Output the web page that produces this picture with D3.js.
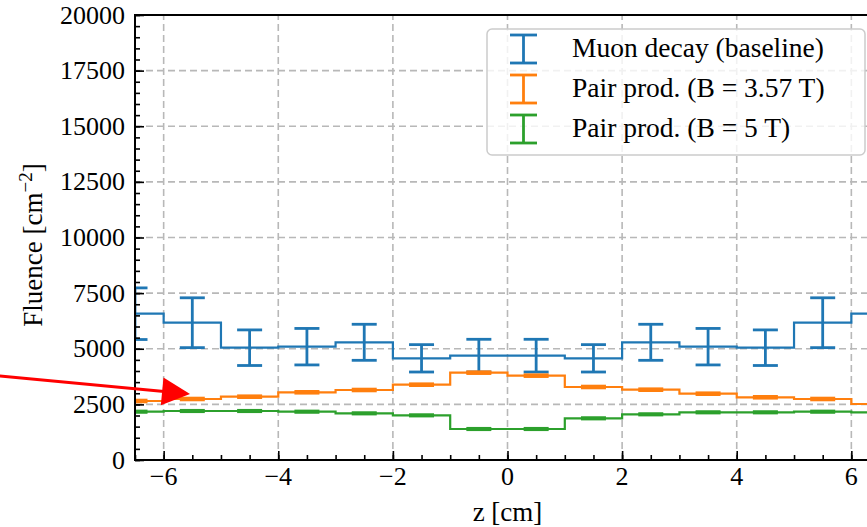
<!DOCTYPE html>
<html><head><meta charset="utf-8">
<script src="https://cdn.jsdelivr.net/npm/d3@7"></script>
<style>
body{margin:0;background:#fff;}
svg{display:block;}
text{font-family:"Liberation Serif","Times New Roman",serif;fill:#000;}
</style>
</head><body>
<svg id="chart" width="867" height="527"></svg>
<script>
// ---- data ----
const binCenters = [-6.5,-5.5,-4.5,-3.5,-2.5,-1.5,-0.5,0.5,1.5,2.5,3.5,4.5,5.5,6.5];
const muonDecay    = [6575,6170,5047,5093,5290,4570,4690,4690,4570,5290,5093,5047,6170,6575];
const muonDecayErr = [1160,1120,800,820,810,615,735,735,615,810,820,800,1120,1160];
const pair357      = [2652,2742,2845,3043,3146,3385,3925,3790,3281,3160,2980,2818,2742,2517];
const pair357Err   = [40,40,40,40,40,40,40,40,40,40,40,40,40,40];
const pair5        = [2171,2202,2202,2171,2097,2007,1393,1393,1873,2053,2143,2143,2171,2143];
const pair5Err     = [30,30,30,30,30,30,30,30,30,30,30,30,30,30];
const seriesNames  = ["Muon decay (baseline)","Pair prod. (B = 3.57 T)","Pair prod. (B = 5 T)"];
const seriesColors = ["#1f77b4","#ff7f0e","#2ca02c"];
const xTicks = [-6,-4,-2,0,2,4,6];
const xMinorTicks = d3.range(-6.5,6.51,0.5);
const yTicks = [0,2500,5000,7500,10000,12500,15000,17500,20000];
const yMinorTicks = d3.range(0,20001,500);
const xLabel = "z [cm]";
const arrowFrom = [-8.86, 3775];
const arrowTo   = [-5.54, 2966];

// ---- layout ----
const svg = d3.select("#chart");
const L = 135, T = 15, B = 460, R = 880;
const x = d3.scaleLinear().domain([-6.5,6.5]).range([L,R]);
const y = d3.scaleLinear().domain([0,20000]).range([B,T]);

svg.append("defs").append("clipPath").attr("id","plotclip")
  .append("rect").attr("x",L).attr("y",T).attr("width",R-L).attr("height",B-T);

// grid
const grid = svg.append("g");
grid.selectAll("line.gx").data(xTicks).join("line")
  .attr("x1",d=>x(d)).attr("x2",d=>x(d)).attr("y1",y(0)).attr("y2",y(20000))
  .attr("stroke","#b8b8b8").attr("stroke-width",1.6).attr("stroke-dasharray","7,4");
grid.selectAll("line.gy").data(yTicks).join("line")
  .attr("x1",L).attr("x2",R).attr("y1",d=>y(d)).attr("y2",d=>y(d))
  .attr("stroke","#b8b8b8").attr("stroke-width",1.6).attr("stroke-dasharray","7,4");

// series
const series = [
  {vals:muonDecay, errs:muonDecayErr},
  {vals:pair357, errs:pair357Err},
  {vals:pair5, errs:pair5Err}
];
const plot = svg.append("g").attr("clip-path","url(#plotclip)");
const line = d3.line().curve(d3.curveStep);
series.forEach((s,i)=>{
  const col = seriesColors[i];
  const pts = binCenters.map((c,j)=>[x(c), y(s.vals[j])]);
  plot.append("path").attr("d", line(pts)).attr("fill","none")
    .attr("stroke",col).attr("stroke-width",2.2);
  const eb = plot.append("g").attr("stroke",col).attr("stroke-width",2.8);
  binCenters.forEach((c,j)=>{
    const lo = y(s.vals[j]-s.errs[j]), hi = y(s.vals[j]+s.errs[j]);
    eb.append("line").attr("x1",x(c)).attr("x2",x(c)).attr("y1",lo).attr("y2",hi);
    eb.append("line").attr("x1",x(c)-12.5).attr("x2",x(c)+12.5).attr("y1",lo).attr("y2",lo);
    eb.append("line").attr("x1",x(c)-12.5).attr("x2",x(c)+12.5).attr("y1",hi).attr("y2",hi);
  });
});

// legend
const lg = svg.append("g");
lg.append("rect").attr("x",487).attr("y",29).attr("width",378).attr("height",126).attr("rx",5)
  .attr("fill","#fff").attr("fill-opacity",0.8).attr("stroke","#cccccc").attr("stroke-width",1.5);
seriesNames.forEach((n,i)=>{
  const cy = 49 + i*40;
  const g = lg.append("g").attr("stroke",seriesColors[i]).attr("stroke-width",2.8);
  g.append("line").attr("x1",523.5).attr("x2",523.5).attr("y1",cy-14).attr("y2",cy+14);
  g.append("line").attr("x1",510).attr("x2",537).attr("y1",cy-14).attr("y2",cy-14);
  g.append("line").attr("x1",510).attr("x2",537).attr("y1",cy+14).attr("y2",cy+14);
  lg.append("text").attr("x",572).attr("y",cy+8).attr("font-size",27.5).text(n);
});

// axes (inward ticks)
const ax = svg.append("g");
function styleAxis(g){
  g.select(".domain").remove();
  g.selectAll("line").attr("stroke","#000").attr("stroke-width",1.6);
  g.selectAll("text").remove();
}
ax.append("g").attr("transform",`translate(0,${B})`)
  .call(d3.axisBottom(x).tickValues(xMinorTicks).tickSize(-5).tickFormat("")).call(styleAxis);
ax.append("g").attr("transform",`translate(0,${B})`)
  .call(d3.axisBottom(x).tickValues(xTicks).tickSize(-9).tickFormat("")).call(styleAxis);
ax.append("g").attr("transform",`translate(${L},0)`)
  .call(d3.axisLeft(y).tickValues(yMinorTicks).tickSize(-5).tickFormat("")).call(styleAxis);
ax.append("g").attr("transform",`translate(${L},0)`)
  .call(d3.axisLeft(y).tickValues(yTicks).tickSize(-9).tickFormat("")).call(styleAxis);
// spines
ax.append("line").attr("x1",L).attr("x2",R).attr("y1",B).attr("y2",B).attr("stroke","#000").attr("stroke-width",2);
ax.append("line").attr("x1",L).attr("x2",R).attr("y1",T).attr("y2",T).attr("stroke","#000").attr("stroke-width",2);
ax.append("line").attr("x1",L).attr("x2",L).attr("y1",T-1).attr("y2",B+1).attr("stroke","#000").attr("stroke-width",2);

// tick labels
const fmtX = d => d<0 ? "\u2212"+Math.abs(d) : String(d);
svg.append("g").selectAll("text").data(xTicks).join("text")
  .attr("x",d=>x(d)).attr("y",485).attr("text-anchor","middle").attr("font-size",26).text(fmtX);
svg.append("g").selectAll("text").data(yTicks).join("text")
  .attr("x",125).attr("y",d=>y(d)+8.5).attr("text-anchor","end").attr("font-size",26).text(d=>String(d));

// axis labels
svg.append("text").attr("x",(L+R)/2).attr("y",521).attr("text-anchor","middle").attr("font-size",27).text(xLabel);
const yl = svg.append("text").attr("transform","translate(42,245) rotate(-90)")
  .attr("text-anchor","middle").attr("font-size",27);
yl.append("tspan").text("Fluence [cm");
yl.append("tspan").attr("dy",-10).attr("font-size",19).text("\u22122");
yl.append("tspan").attr("dy",10).text("]");

// arrow annotation
const p0 = [x(arrowFrom[0]), y(arrowFrom[1])], p1 = [x(arrowTo[0]), y(arrowTo[1])];
const dx = p1[0]-p0[0], dy = p1[1]-p0[1], len = Math.hypot(dx,dy);
const ux = dx/len, uy = dy/len, hl = 28, hw = 14;
const bx = p1[0]-ux*hl, by = p1[1]-uy*hl;
svg.append("line").attr("x1",p0[0]).attr("y1",p0[1]).attr("x2",bx+ux*2).attr("y2",by+uy*2)
  .attr("stroke","#ff0000").attr("stroke-width",3);
svg.append("path").attr("d",`M${p1[0]},${p1[1]}L${bx-uy*hw},${by+ux*hw}L${bx+uy*hw},${by-ux*hw}Z`)
  .attr("fill","#ff0000");
</script>
</body></html>
